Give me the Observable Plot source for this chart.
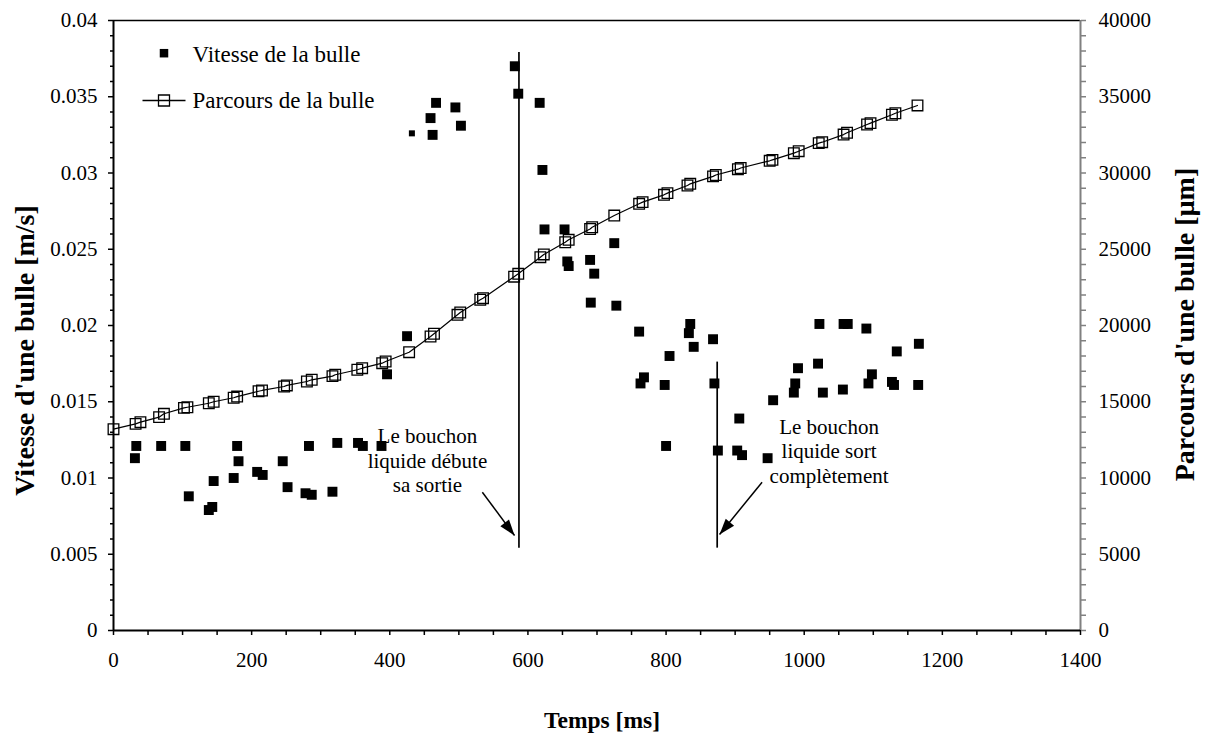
<!DOCTYPE html>
<html><head><meta charset="utf-8">
<script src="https://cdn.jsdelivr.net/npm/d3@7"></script>
<script src="https://cdn.jsdelivr.net/npm/@observablehq/plot@0.6"></script>
<style>body{margin:0;background:#fff;}</style>
</head><body><div id="chart"></div>
<script>
// Vitesse de la bulle (m/s) vs temps (ms)
const vitT = [31,33,69,104,109,138,143,145,174,179,181,208,216,245,252,278,283,287,317,324,354,361,388,396,425,459,462,467,495,503,581,586,617,621,624,653,657,659,690,691,696,725,728,761,763,768,798,800,805,833,835,840,868,870,875,903,906,910,947,955,985,987,991,1020,1022,1027,1056,1057,1063,1090,1093,1098,1127,1130,1134,1165,1166];
const vitV = [0.0113,0.0121,0.0121,0.0121,0.0088,0.0079,0.0081,0.0098,0.0100,0.0121,0.0111,0.0104,0.0102,0.0111,0.0094,0.0090,0.0121,0.0089,0.0091,0.0123,0.0123,0.0121,0.0121,0.0168,0.0193,0.0336,0.0325,0.0346,0.0343,0.0331,0.0370,0.0352,0.0346,0.0302,0.0263,0.0263,0.0242,0.0239,0.0243,0.0215,0.0234,0.0254,0.0213,0.0196,0.0162,0.0166,0.0161,0.0121,0.0180,0.0195,0.0201,0.0186,0.0191,0.0162,0.0118,0.0118,0.0139,0.0115,0.0113,0.0151,0.0156,0.0162,0.0172,0.0175,0.0201,0.0156,0.0158,0.0201,0.0201,0.0198,0.0162,0.0168,0.0163,0.0161,0.0183,0.0161,0.0188];
const vitSmallT = [432];
const vitSmallV = [0.0326];

// Parcours de la bulle (µm) vs temps (ms)
const parT = [0,32,39,66,73,102,107,138,145,174,179,210,215,247,251,280,287,317,321,353,360,389,394,428,459,464,498,502,531,535,580,586,618,623,654,659,690,693,725,761,766,797,802,831,835,868,872,904,908,950,954,985,992,1021,1026,1057,1062,1091,1096,1127,1132,1164];
const parD = [13200,13550,13660,13990,14210,14600,14640,14900,15000,15260,15340,15690,15740,16000,16070,16330,16440,16680,16770,17100,17200,17530,17640,18250,19280,19460,20700,20850,21690,21790,23200,23390,24480,24660,25460,25620,26330,26440,27210,27980,28090,28570,28680,29180,29290,29780,29870,30250,30330,30800,30860,31300,31430,31960,32020,32520,32640,33180,33270,33820,33920,34430];

// Axes
const xTicks = [0,200,400,600,800,1000,1200,1400];
const xMinorTicks = d3.range(0,1401,50).filter(d => d % 200 !== 0);
const yTicks = [0,0.005,0.01,0.015,0.02,0.025,0.03,0.035,0.04];
const yMinorTicks = d3.range(0,41).filter(i => i % 5 !== 0).map(i => i/1000);
const y2Ticks = [0,5000,10000,15000,20000,25000,30000,35000,40000];
const y2Factor = 1e-6; // 40000 µm ↔ 0.04 m/s

// Annotations
const markT = [587, 874];
const markV1 = [0.0054, 0.0054];
const markV2 = [0.0379, 0.0176];
const noteText = ["Le bouchon\nliquide débute\nsa sortie", "Le bouchon\nliquide sort\ncomplètement"];
const noteT = [454.5, 1036];
const noteV = [0.00907, 0.0097];
const arrowT1 = [534, 939], arrowV1 = [0.00907, 0.00972];
const arrowT2 = [580.6, 877.4], arrowV2 = [0.00623, 0.0063];
const arrowAngle = [142, 220.4];

const legendLabels = ["Vitesse de la bulle", "Parcours de la bulle"];
const xTitle = "Temps [ms]";
const yTitle = "Vitesse d'une bulle [m/s]";
const y2Title = "Parcours d'une bulle [µm]";

const vit = vitT.map((t,i) => ({t, v: vitV[i]}));
const vitSmall = vitSmallT.map((t,i) => ({t, v: vitSmallV[i]}));
const par = parT.map((t,i) => ({t, d: parD[i]}));
const idx = d3.range(2);

const arrowHead = {draw(ctx){ ctx.moveTo(0,0); ctx.lineTo(5.5,16); ctx.lineTo(-5.5,16); ctx.closePath(); }};
const lineSquare = {draw(ctx){ const s = 5.5; ctx.moveTo(-21.5,0); ctx.lineTo(21.5,0); ctx.moveTo(-s,-s); ctx.lineTo(s,-s); ctx.lineTo(s,s); ctx.lineTo(-s,s); ctx.closePath(); }};

const fmtV = d => d === 0 ? "0" : String(+d.toFixed(3));
const fmtD = d => String(Math.round(d / y2Factor));

const chart = Plot.plot({
  width: 1205, height: 740,
  marginLeft: 113, marginRight: 125, marginTop: 20, marginBottom: 110,
  style: {fontFamily: "'Liberation Serif', 'Times New Roman', serif", fontSize: "21px", background: "#fff", color: "#000"},
  x: {domain: [0, 1400], axis: null},
  y: {domain: [0, 0.04], axis: null},
  marks: [
    // frame
    Plot.ruleY([0.04], {stroke: "#000", strokeWidth: 1.7}),
    Plot.ruleX([1400], {stroke: "#808080", strokeWidth: 2}),
    // left axis
    Plot.axisY({ticks: yTicks, anchor: "left", tickSize: 5, tickPadding: 11, tickFormat: fmtV, label: null, strokeWidth: 1.5}),
    Plot.axisY({ticks: yMinorTicks, anchor: "left", tickSize: 3, tickFormat: () => "", label: null, strokeWidth: 1.5}),
    // bottom axis
    Plot.axisX({ticks: xTicks, anchor: "bottom", tickSize: 5, tickPadding: 17, tickFormat: d => String(d), label: null, strokeWidth: 1.5}),
    Plot.axisX({ticks: xMinorTicks, anchor: "bottom", tickSize: 5, tickFormat: () => "", label: null, strokeWidth: 1.5}),
    // right axis
    Plot.axisY({ticks: y2Ticks.map(d => d * y2Factor), anchor: "right", tickSize: 5, tickFormat: () => "", label: null, stroke: "#808080", strokeWidth: 1.5}),
    Plot.axisY({ticks: yMinorTicks, anchor: "right", tickSize: 5, tickFormat: () => "", label: null, stroke: "#808080", strokeWidth: 1.5}),
    Plot.axisY({ticks: y2Ticks.map(d => d * y2Factor), anchor: "right", tickSize: 0, tickPadding: 18, tickFormat: fmtD, label: null}),
    Plot.ruleX([0], {stroke: "#000", strokeWidth: 2}),
    Plot.ruleY([0], {stroke: "#000", strokeWidth: 2}),
    // annotation lines
    Plot.ruleX(idx, {x: i => markT[i], y1: i => markV1[i], y2: i => markV2[i], stroke: "#000", strokeWidth: 1.7}),
    Plot.link(idx, {x1: i => arrowT1[i], y1: i => arrowV1[i], x2: i => arrowT2[i], y2: i => arrowV2[i], stroke: "#000", strokeWidth: 1.5}),
    Plot.dot(idx, {x: i => arrowT2[i], y: i => arrowV2[i], symbol: arrowHead, rotate: i => arrowAngle[i], fill: "#000", stroke: "none", r: 5}),
    Plot.text(idx, {x: i => noteT[i], y: i => noteV[i], text: i => noteText[i], lineAnchor: "bottom", textAnchor: "middle", lineHeight: 1.16, fontSize: 21, fill: "#000"}),
    // data
    Plot.line(par, {x: "t", y: d => d.d * y2Factor, stroke: "#000", strokeWidth: 1.2}),
    Plot.dot(par, {x: "t", y: d => d.d * y2Factor, symbol: "square", r: 6, stroke: "#000", fill: "none", strokeWidth: 1.3}),
    Plot.dot(vit, {x: "t", y: "v", symbol: "square", r: 5.6, fill: "#000", stroke: "none"}),
    Plot.dot(vitSmall, {x: "t", y: "v", symbol: "square", r: 3.4, fill: "#000", stroke: "none"}),
    // legend
    Plot.dot([0], {frameAnchor: "top-left", dx: 50.5, dy: 32.7, symbol: "square", r: 4.8, fill: "#000", stroke: "none"}),
    Plot.text([legendLabels[0]], {frameAnchor: "top-left", dx: 79, dy: 34.5, text: d => d, textAnchor: "start", lineAnchor: "middle", fontSize: 23, fill: "#000"}),
    Plot.dot([0], {frameAnchor: "top-left", dx: 50.5, dy: 80, symbol: lineSquare, r: 5, fill: "none", stroke: "#000", strokeWidth: 1.3}),
    Plot.text([legendLabels[1]], {frameAnchor: "top-left", dx: 79, dy: 80.5, text: d => d, textAnchor: "start", lineAnchor: "middle", fontSize: 23, fill: "#000"}),
    // axis titles
    Plot.text([xTitle], {frameAnchor: "bottom", dx: 5, dy: 97, text: d => d, textAnchor: "middle", lineAnchor: "bottom", fontWeight: "bold", fontSize: 23.5, fill: "#000"}),
    Plot.text([yTitle], {frameAnchor: "left", dx: -80, dy: 25, rotate: -90, text: d => d, textAnchor: "middle", lineAnchor: "bottom", fontWeight: "bold", fontSize: 28, fill: "#000"}),
    Plot.text([y2Title], {frameAnchor: "right", dx: 113, dy: -1, rotate: -90, text: d => d, textAnchor: "middle", lineAnchor: "bottom", fontWeight: "bold", fontSize: 28, fill: "#000"})
  ]
});
document.getElementById("chart").appendChild(chart);
</script>
</body></html>
